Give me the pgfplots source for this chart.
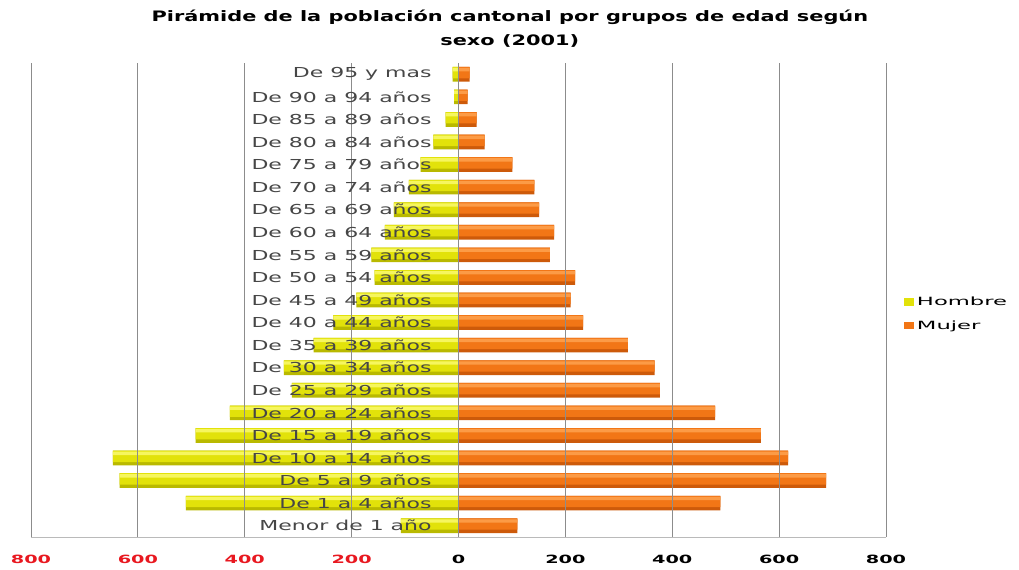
\documentclass[border=0pt]{standalone}
\usepackage{pgfplots}
\usepackage{pgfplotstable}
\pgfplotsset{compat=1.18}
\usepackage{fontspec}
\setmainfont{DejaVu Sans}
\newfontfamily\labfont[FakeStretch=1.6]{DejaVu Sans}
\newfontfamily\tickfont[FakeStretch=1.7]{DejaVu Sans}
\newfontfamily\legfont[FakeStretch=2.0]{DejaVu Sans}
\newfontfamily\titlefont[FakeStretch=1.45]{DejaVu Sans}

\definecolor{hombreTop}{RGB}{246,246,95}
\definecolor{hombreMid}{RGB}{226,226,10}
\definecolor{hombreBot}{RGB}{185,185,0}
\definecolor{mujerTop}{RGB}{252,155,70}
\definecolor{mujerMid}{RGB}{242,118,22}
\definecolor{mujerBot}{RGB}{205,90,10}
\definecolor{gridgray}{RGB}{140,140,140}
\definecolor{negred}{RGB}{232,24,32}
\definecolor{labgray}{RGB}{70,70,70}

% idx 0 = Menor de 1 año ... 20 = De 95 y mas
\pgfplotstableread{
idx hombre mujer
0  -108 110
1  -510 490
2  -634 688
3  -647 617
4  -492 566
5  -428 480
6  -312 377
7  -327 367
8  -271 317
9  -234 233
10 -191 210
11 -157 218
12 -163 171
13 -138 179
14 -121 151
15  -93 142
16  -71 101
17  -47  49
18  -24  34
19   -8  17
20  -11  21
}\piramide

\begin{document}
\begin{tikzpicture}
\useasboundingbox (-23.25pt,-24pt) rectangle (741pt,402.75pt);
\begin{axis}[
    at={(0,0)}, anchor=south west,
    scale only axis,
    width=641.25pt, height=355.5pt,
    xmin=-800, xmax=800,
    ymin=-0.5, ymax=20.5,
    axis on top,
    axis x line=bottom,
    axis y line=center,
    x axis line style={gridgray!60, -},
    y axis line style={gridgray, -},
    xmajorgrids,
    grid style={gridgray, line width=0.6pt},
    major tick length=0pt,
    xtick={-800,-600,...,800},
    xticklabels={\textcolor{negred}{800},\textcolor{negred}{600},
                 \textcolor{negred}{400},\textcolor{negred}{200},
                 0,200,400,600,800},
    xticklabel style={font=\tickfont\bfseries\fontsize{8.5}{10}\selectfont,
                      yshift=-10pt},
    ytick={0,...,20},
    yticklabels={Menor de 1 año, De 1 a 4 años, De 5 a 9 años,
                 De 10 a 14 años, De 15 a 19 años, De 20 a 24 años,
                 De 25 a 29 años, De 30 a 34 años, De 35 a 39 años,
                 De 40 a 44 años, De 45 a 49 años, De 50 a 54 años,
                 De 55 a 59 años, De 60 a 64 años, De 65 a 69 años,
                 De 70 a 74 años, De 75 a 79 años, De 80 a 84 años,
                 De 85 a 89 años, De 90 a 94 años, De 95 y mas},
    yticklabel style={font=\labfont\fontsize{10.3}{12}\selectfont,
                      anchor=east, inner sep=0pt, xshift=-20pt, text=labgray},
    title={Pirámide de la población cantonal por grupos de edad según\\sexo (2001)},
    title style={at={(axis description cs:0.5,1)}, anchor=south,
                 xshift=38.5pt, yshift=2.5pt, align=center,
                 font=\titlefont\bfseries\fontsize{10.8}{17.5}\selectfont},
    legend style={at={(axis description cs:1,0.471)}, anchor=west,
                  xshift=10pt, draw=none, fill=none,
                  font=\legfont\fontsize{8.5}{10}\selectfont,
                  row sep=6pt, legend cell align=left},
    legend image code/.code={\fill[#1] (0pt,-2.8pt) rectangle (8pt,2.8pt);},
]
% Hombre: dark base, main body, light highlight
\addplot[xbar, forget plot, bar width=11pt, bar shift=0pt, draw=none, fill=hombreBot]
    table[x=hombre, y=idx] {\piramide};
\addplot[xbar, bar width=8.5pt, bar shift=1.25pt, draw=none, fill=hombreMid]
    table[x=hombre, y=idx] {\piramide};
\addlegendentry{Hombre}
\addplot[xbar, forget plot, bar width=2.5pt, bar shift=3.5pt, draw=none, fill=hombreTop]
    table[x=hombre, y=idx] {\piramide};
% Mujer
\addplot[xbar, forget plot, bar width=11pt, bar shift=0pt, draw=none, fill=mujerBot]
    table[x=mujer, y=idx] {\piramide};
\addplot[xbar, bar width=8.5pt, bar shift=1.25pt, draw=none, fill=mujerMid]
    table[x=mujer, y=idx] {\piramide};
\addlegendentry{Mujer}
\addplot[xbar, forget plot, bar width=2.5pt, bar shift=3.5pt, draw=none, fill=mujerTop]
    table[x=mujer, y=idx] {\piramide};
\end{axis}
\end{tikzpicture}
\end{document}
